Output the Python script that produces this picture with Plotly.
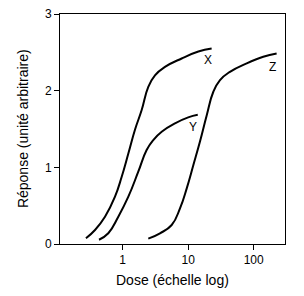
import math
import plotly.graph_objects as go

x_dose = [0.275, 0.378, 0.537, 0.763, 0.966, 1.22, 1.54, 1.95, 2.46, 3.11, 4.42, 7.95, 14.3, 22.8]
x_resp = [0.075, 0.183, 0.356, 0.617, 0.877, 1.18, 1.49, 1.747, 2.05, 2.20, 2.31, 2.42, 2.51, 2.55]

y_dose = [0.435, 0.603, 0.857, 1.22, 1.73, 2.32, 2.93, 3.94, 6.29, 10.0, 14.0]
y_resp = [0.055, 0.14, 0.356, 0.617, 0.943, 1.226, 1.356, 1.464, 1.574, 1.652, 1.685]

z_dose = [2.46, 3.71, 5.6, 7.5, 9.5, 12.0, 15.1, 19.2, 24.2, 30.6, 43.4, 78.2, 140, 224]
z_resp = [0.070, 0.14, 0.248, 0.465, 0.726, 1.03, 1.334, 1.68, 1.986, 2.138, 2.246, 2.356, 2.442, 2.486]

labels = ["X", "Y", "Z"]
label_dose = [20.3, 12.0, 196]
label_resp = [2.40, 1.52, 2.31]

x_title = "Dose (échelle log)"
y_title = "Réponse (unité arbitraire)"

FONT = "Liberation Sans, Arial"

fig = go.Figure()
for d, r in [(x_dose, x_resp), (y_dose, y_resp), (z_dose, z_resp)]:
    fig.add_trace(go.Scatter(x=d, y=r, mode="lines",
                             line=dict(color="black", width=2, shape="spline", smoothing=1.3),
                             showlegend=False, hoverinfo="skip"))
for t, d, r in zip(labels, label_dose, label_resp):
    fig.add_annotation(x=math.log10(d), y=r, text=t, showarrow=False,
                       font=dict(size=12, color="black", family=FONT))

fig.add_annotation(xref="paper", yref="paper", x=0.5, y=-0.1565, text=x_title,
                   showarrow=False, xanchor="center", yanchor="middle",
                   font=dict(size=14, color="black", family=FONT))
fig.add_annotation(xref="paper", yref="paper", x=-0.164, y=0.5, text=y_title,
                   showarrow=False, xanchor="center", yanchor="middle", textangle=-90,
                   font=dict(size=14, color="black", family=FONT))

fig.update_layout(
    width=304, height=296,
    margin=dict(l=60, r=19, t=14, b=52, autoexpand=False),
    plot_bgcolor="white", paper_bgcolor="white",
    font=dict(family=FONT, size=12, color="black"),
    xaxis=dict(type="log", range=[-0.957, 2.478], tickvals=[1, 10, 100], ticktext=["1", "10", "100"],
               showgrid=False, zeroline=False, showline=True, linecolor="black", linewidth=1,
               mirror=True, ticks="outside", ticklen=5, tickcolor="black", automargin=False),
    yaxis=dict(range=[0, 3], tickvals=[0, 1, 2, 3], showgrid=False, zeroline=False,
               showline=True, linecolor="black", linewidth=1, mirror=True,
               ticks="outside", ticklen=5, tickcolor="black", automargin=False),
)
fig.write_html("out.html")
